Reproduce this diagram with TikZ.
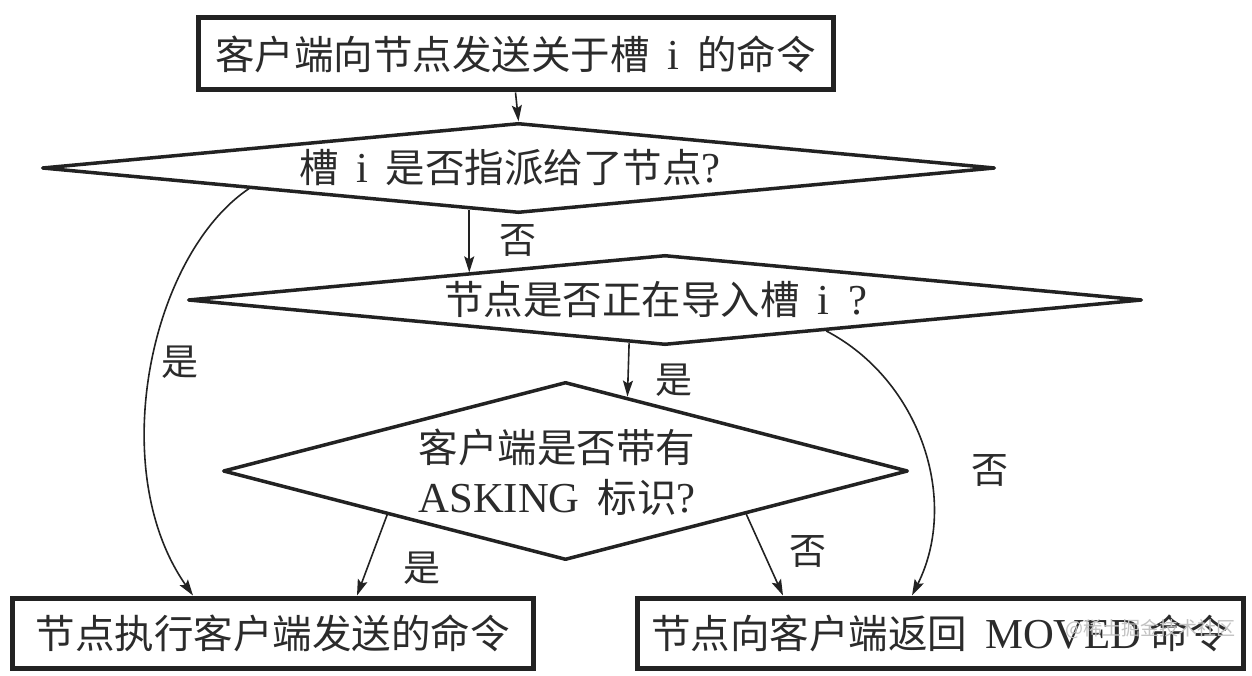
\documentclass[tikz,border=0pt]{standalone}
\usepackage{fontspec}
\setmainfont{Noto Sans CJK SC}
\newfontfamily\lat[Scale=1.08]{Liberation Serif}
\usetikzlibrary{arrows.meta,shapes.geometric,calc}
\definecolor{ink}{HTML}{222222}
\definecolor{txt}{HTML}{2B2B2B}
\definecolor{wm}{HTML}{C2C2C2}
\newcommand{\gapsp}{\hspace{0.45em}}
\begin{document}
\begin{tikzpicture}[x=1pt,y=-1pt,
  boxnode/.style={draw=ink,line width=5pt,inner sep=0pt,text=txt,font=\fontsize{39.5}{46}\selectfont},
  dianode/.style={diamond,draw=ink,line width=3.5pt,inner sep=0pt,line join=round},
  txtnode/.style={inner sep=0pt,text=txt,font=\fontsize{39.5}{50}\selectfont,align=center},
  lblnode/.style={inner sep=0pt,text=txt,font=\fontsize{37}{40}\selectfont},
  arr/.style={draw=ink,line width=1.6pt,-{Stealth[length=16pt,width=10pt,inset=3pt]}},
  wmnode/.style={inner sep=0pt,text=wm,font=\fontsize{19}{22}\selectfont}]
\useasboundingbox[fill=white] (0,0) rectangle (1252,676);

% boxes
\node[boxnode,minimum width=635pt,minimum height=72pt] (tb) at (515.5,54) {客户端向节点发送关于槽\gapsp{\lat i}\gapsp 的命令};
\node[boxnode,minimum width=521pt,minimum height=70pt] (lb) at (272.5,633) {节点执行客户端发送的命令};
\node[boxnode,minimum width=606pt,minimum height=70pt] (rb) at (940,633) {节点向客户端返回\gapsp{\lat MOVED}\hspace{0.2em}命令};

% diamonds
\node[dianode,minimum width=953pt,minimum height=90pt] (d1) at (518.5,168) {};
\node[dianode,minimum width=954pt,minimum height=90pt] (d2) at (665,300) {};
\node[dianode,minimum width=685pt,minimum height=178pt] (d3) at (565.5,471) {};

\node[txtnode] (d1t) at (510,168) {槽\gapsp{\lat i}\gapsp 是否指派给了节点{\lat ?}};
\node[txtnode] (d2t) at (656,300) {节点是否正在导入槽\gapsp{\lat i\gapsp ?}};
\node[txtnode] (d3t) at (557,472) {客户端是否带有\\{\lat ASKING}\gapsp 标识{\lat ?}};

% connectors
\draw[arr] (tb.south) -- (d1.north);
\coordinate (a1) at ($(d1.south)!0.103!(d1.west)$);
\coordinate (b1) at ($(d2.north)!0.409!(d2.west)$);
\draw[arr] (a1) -- (a1 |- b1);
\draw[arr] ($(d2.south)!0.075!(d2.west)$) -- ($(d3.north)!0.18!(d3.east)$);
\draw[arr] ($(d1.south)!0.563!(d1.west)$) .. controls (150,255) and (105,470) .. (193,0 |- lb.north);
\draw[arr] ($(d3.south)!0.518!(d3.west)$) -- (357,0 |- lb.north);
\draw[arr] ($(d3.south)!0.525!(d3.east)$) -- (783,0 |- rb.north);
\draw[arr] ($(d2.south)!0.337!(d2.east)$) .. controls (920,380) and (960,500) .. (912,0 |- rb.north);

% labels
\node[lblnode] (l1) at (518,240) {否};
\node[lblnode] (l2) at (674,380) {是};
\node[lblnode] (l3) at (180,362) {是};
\node[lblnode] (l4) at (422,568) {是};
\node[lblnode] (l5) at (808,551) {否};
\node[lblnode] (l6) at (990,470) {否};

\node[wmnode] (wm) at (1150,629) {@稀土掘金技术社区};
\end{tikzpicture}
\end{document}
